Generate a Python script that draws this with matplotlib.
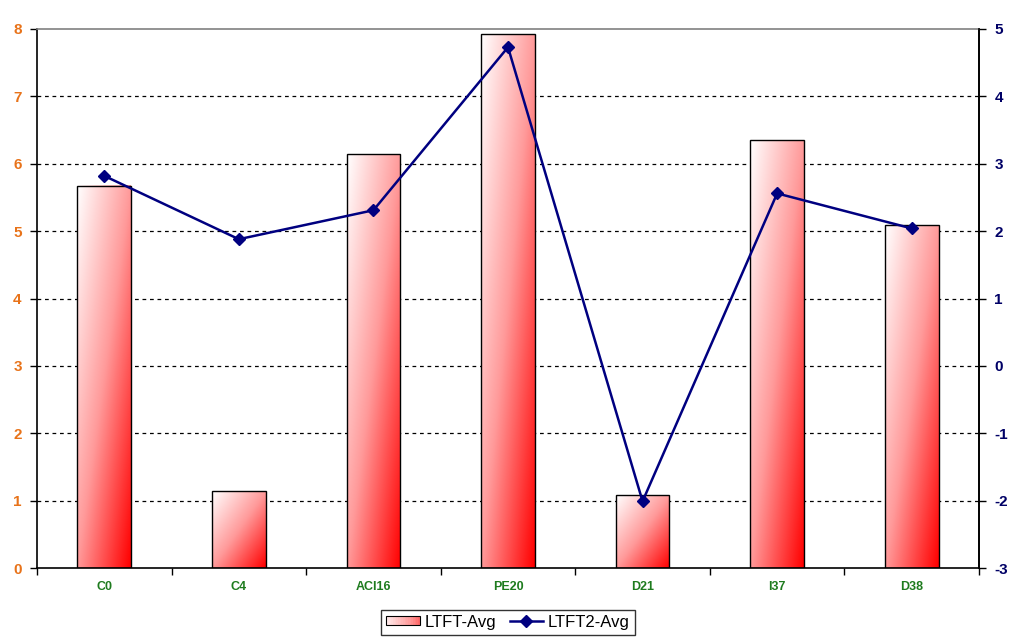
import numpy as np
import matplotlib
matplotlib.use("Agg")
import matplotlib.pyplot as plt
from matplotlib.patches import Rectangle
from matplotlib.lines import Line2D
from matplotlib.colors import LinearSegmentedColormap
from matplotlib.legend_handler import HandlerBase

categories = ["C0", "C4", "ACI16", "PE20", "D21", "I37", "D38"]
ltft_avg = [5.67, 1.14, 6.14, 7.92, 1.08, 6.35, 5.09]
ltft2_avg = [2.82, 1.88, 2.31, 4.73, -2.01, 2.56, 2.04]
left_ticks = [0, 1, 2, 3, 4, 5, 6, 7, 8]
right_ticks = [-3, -2, -1, 0, 1, 2, 3, 4, 5]

plt.rcParams['font.family'] = ['Liberation Sans', 'DejaVu Sans']

fig = plt.figure(figsize=(10.2, 6.44), dpi=100)
fig.patch.set_facecolor('white')
ax = fig.add_axes([37/1020, 1-568/644, (979-37)/1020, (568-29)/644])
ax2 = ax.twinx()

cmap = LinearSegmentedColormap.from_list('wr', ['#ffffff', '#ff9a9a', '#ff0000'])

n = len(categories)
x = np.arange(n)
bw = 0.40

res = 100
for xi, h in zip(x, ltft_avg):
    xs = np.linspace(0, 1, res)
    ys = np.linspace(0, 1, res)
    XX, YY = np.meshgrid(xs, ys)
    T = (XX + YY) / 2.0
    ax.imshow(T, cmap=cmap, vmin=0, vmax=1, extent=(xi - bw/2, xi + bw/2, 0, h),
              origin='upper', aspect='auto', zorder=2, interpolation='bilinear')
    ax.add_patch(Rectangle((xi - bw/2, 0), bw, h, fill=False, edgecolor='black',
                           linewidth=1.0, zorder=3))

ax.set_xlim(-0.5, n - 0.5)
ax.set_ylim(0, 8)

for yv in left_ticks[1:-1]:
    ax.axhline(yv, color='black', linestyle=(0, (3, 3)), linewidth=0.9, zorder=1)

ax.spines['top'].set_color('#808080')
ax.spines['top'].set_linewidth(1.2)
for s in ['left', 'right', 'bottom']:
    ax.spines[s].set_color('black')
    ax.spines[s].set_linewidth(1.2)
ax2.spines['top'].set_visible(False)
ax2.spines['left'].set_visible(False)
ax2.spines['bottom'].set_visible(False)
ax2.spines['right'].set_color('black')
ax2.spines['right'].set_linewidth(1.2)

ax.set_yticks(left_ticks)
ax.set_yticklabels([str(v) for v in left_ticks], color='#E8731A', fontweight='bold', fontsize=11)
ax.tick_params(axis='y', direction='out', length=5, width=1, pad=6)

ax.set_xticks(np.arange(n + 1) - 0.5)
ax.set_xticklabels([])
ax.tick_params(axis='x', which='major', direction='out', length=5, width=1)
ax.set_xticks(x, minor=True)
ax.set_xticklabels(categories, minor=True, color='#1E7B1E', fontweight='bold', fontsize=9)
ax.tick_params(axis='x', which='minor', length=0, pad=9)

ax2.set_ylim(-3, 5)
ax2.set_yticks(right_ticks)
ax2.set_yticklabels([str(v) for v in right_ticks], color='#000066', fontweight='bold', fontsize=11)
ax2.tick_params(axis='y', direction='out', length=5, width=1, pad=6)

ax2.plot(x, ltft2_avg, color='#000080', linewidth=1.8, marker='D', markersize=6.5,
         markerfacecolor='#000080', markeredgecolor='#000080', zorder=5)


class GradHandler(HandlerBase):
    def create_artists(self, legend, orig, xdescent, ydescent, width, height, fontsize, trans):
        arts = []
        k = 20
        for i in range(k):
            c = cmap(0.1 + 0.55 * i / (k - 1))
            r = Rectangle((-xdescent + width * i / k, -ydescent + height * 0.1), width / k + 0.3,
                          height * 0.8, facecolor=c, edgecolor='none', transform=trans)
            arts.append(r)
        arts.append(Rectangle((-xdescent, -ydescent + height * 0.1), width, height * 0.8,
                              fill=False, edgecolor='black', linewidth=0.8, transform=trans))
        return arts


bar_handle = Rectangle((0, 0), 1, 1)
line_handle = Line2D([], [], color='#000080', linewidth=1.8, marker='D', markersize=6.5)
leg = fig.legend([bar_handle, line_handle], ['LTFT-Avg', 'LTFT2-Avg'],
                 handler_map={bar_handle: GradHandler()},
                 loc='center', bbox_to_anchor=(508/1020, 1-622/644), ncol=2,
                 frameon=True, fancybox=False, edgecolor='black', fontsize=12,
                 handlelength=2.0, handletextpad=0.3, columnspacing=0.8,
                 borderpad=0.3)
leg.get_frame().set_linewidth(1.0)

fig.savefig('out.png', dpi=100, facecolor='white')
